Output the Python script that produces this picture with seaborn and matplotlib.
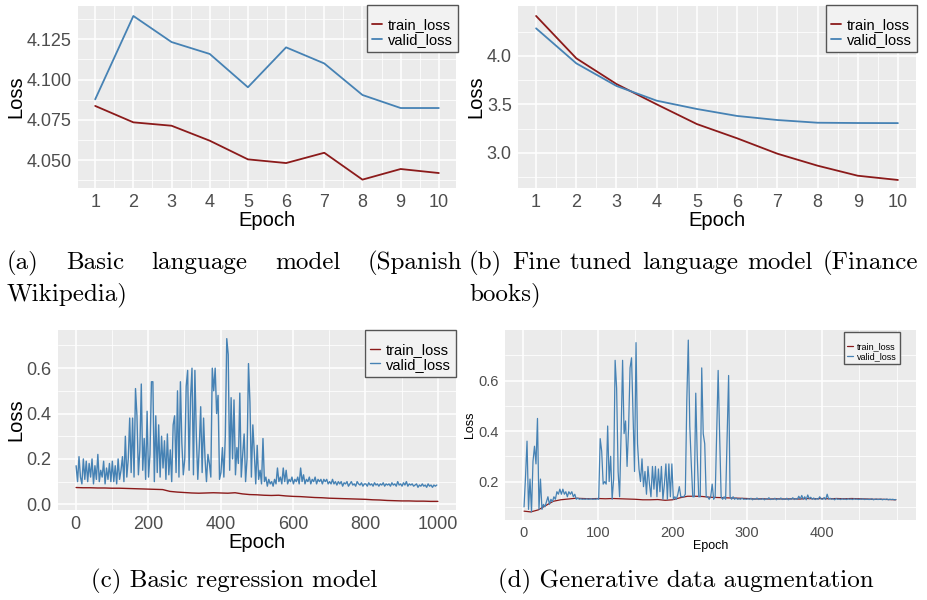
import numpy as np
import pandas as pd
import matplotlib
matplotlib.use("Agg")
import matplotlib.pyplot as plt
import seaborn as sns

# ---------------- data ----------------
# (a) Basic language model (Spanish Wikipedia)
a_epoch = [1, 2, 3, 4, 5, 6, 7, 8, 9, 10]
a_train = [4.0836, 4.0734, 4.0713, 4.0620, 4.0504, 4.0481, 4.0545, 4.0378, 4.0444, 4.0419]
a_valid = [4.0877, 4.1395, 4.1233, 4.1159, 4.0952, 4.1200, 4.1100, 4.0904, 4.0823, 4.0823]

# (b) Fine tuned language model (Finance books)
b_epoch = [1, 2, 3, 4, 5, 6, 7, 8, 9, 10]
b_train = [4.414, 3.976, 3.710, 3.500, 3.296, 3.149, 2.990, 2.866, 2.762, 2.718]
b_valid = [4.286, 3.924, 3.690, 3.538, 3.452, 3.380, 3.338, 3.310, 3.307, 3.306]

# (c) Basic regression model  (valid read every 4 epochs, train every 20)
c_valid_epoch = list(range(1, 1001, 4))
c_valid = [
    0.17, 0.10, 0.21, 0.12, 0.09, 0.20, 0.11, 0.19, 0.10, 0.18, 0.12, 0.20, 0.09, 0.17, 0.11, 0.22, 0.10, 0.15, 0.12, 0.19, 0.09, 0.16, 0.11, 0.18, 0.10,
    0.19, 0.10, 0.17, 0.09, 0.20, 0.11, 0.15, 0.21, 0.10, 0.30, 0.12, 0.20, 0.38, 0.14, 0.38, 0.12, 0.51, 0.39, 0.13, 0.24, 0.53, 0.15, 0.29, 0.11, 0.41,
    0.12, 0.22, 0.54, 0.54, 0.10, 0.39, 0.14, 0.35, 0.12, 0.30, 0.16, 0.28, 0.11, 0.31, 0.13, 0.24, 0.10, 0.35, 0.39, 0.14, 0.50, 0.12, 0.54, 0.27, 0.13,
    0.20, 0.52, 0.59, 0.15, 0.47, 0.60, 0.13, 0.59, 0.30, 0.11, 0.25, 0.43, 0.14, 0.38, 0.20, 0.10, 0.22, 0.18, 0.12, 0.60, 0.50, 0.60, 0.40, 0.48, 0.11,
    0.14, 0.25, 0.12, 0.30, 0.73, 0.66, 0.15, 0.47, 0.20, 0.46, 0.13, 0.25, 0.18, 0.49, 0.12, 0.22, 0.31, 0.10, 0.20, 0.62, 0.45, 0.12, 0.35, 0.23, 0.09,
    0.26, 0.11, 0.15, 0.09, 0.29, 0.10, 0.12, 0.08, 0.11, 0.09, 0.10, 0.08, 0.11, 0.09, 0.16, 0.10, 0.12, 0.09, 0.16, 0.10, 0.15, 0.09, 0.11, 0.10, 0.12,
    0.09, 0.11, 0.10, 0.12, 0.09, 0.16, 0.10, 0.13, 0.09, 0.11, 0.10, 0.12, 0.09, 0.11, 0.10, 0.12, 0.09, 0.11, 0.10, 0.11, 0.09, 0.11, 0.10, 0.11, 0.09,
    0.10, 0.09, 0.11, 0.09, 0.10, 0.085, 0.10, 0.09, 0.10, 0.08, 0.095, 0.09, 0.10, 0.08, 0.09, 0.10, 0.085, 0.09, 0.08, 0.10, 0.09, 0.085, 0.095, 0.08, 0.09,
    0.09, 0.08, 0.095, 0.085, 0.09, 0.08, 0.095, 0.085, 0.09, 0.08, 0.09, 0.085, 0.095, 0.08, 0.09, 0.085, 0.09, 0.08, 0.095, 0.085, 0.09, 0.08, 0.10, 0.085, 0.09,
    0.08, 0.095, 0.085, 0.10, 0.08, 0.09, 0.085, 0.09, 0.08, 0.085, 0.09, 0.075, 0.085, 0.08, 0.09, 0.08, 0.085, 0.075, 0.09, 0.08, 0.085, 0.075, 0.085, 0.08, 0.085,
]
c_train_epoch = [1] + list(range(20, 1001, 20))
c_train = [0.074, 0.073, 0.073, 0.072, 0.072, 0.071, 0.071, 0.070, 0.069, 0.068, 0.067, 0.066, 0.065,
           0.057, 0.054, 0.052, 0.050, 0.049, 0.050, 0.051, 0.050, 0.049, 0.051, 0.046, 0.043, 0.042,
           0.040, 0.039, 0.040, 0.037, 0.035, 0.034, 0.032, 0.030, 0.029, 0.027, 0.026, 0.025, 0.024,
           0.023, 0.022, 0.020, 0.019, 0.017, 0.016, 0.015, 0.015, 0.014, 0.014, 0.013, 0.013]

# (d) Generative data augmentation (valid read every 2 epochs, train every 10)
d_valid_epoch = list(range(1, 500, 2))
d_valid = [
    0.10, 0.22, 0.36, 0.09, 0.21, 0.08, 0.28, 0.34, 0.27, 0.45, 0.09, 0.21, 0.09, 0.11, 0.10, 0.12, 0.14, 0.11, 0.13, 0.12, 0.14, 0.13, 0.16, 0.15, 0.17,
    0.15, 0.17, 0.15, 0.16, 0.14, 0.16, 0.15, 0.16, 0.14, 0.15, 0.13, 0.135, 0.13, 0.132, 0.13, 0.131, 0.13, 0.132, 0.13, 0.131, 0.132, 0.13, 0.131, 0.13, 0.132,
    0.13, 0.37, 0.32, 0.19, 0.20, 0.19, 0.42, 0.20, 0.30, 0.13, 0.21, 0.68, 0.57, 0.24, 0.14, 0.39, 0.68, 0.39, 0.44, 0.26, 0.41, 0.65, 0.69, 0.46, 0.24,
    0.75, 0.35, 0.25, 0.20, 0.29, 0.18, 0.24, 0.15, 0.26, 0.19, 0.14, 0.26, 0.17, 0.26, 0.14, 0.25, 0.16, 0.26, 0.13, 0.19, 0.27, 0.13, 0.27, 0.14, 0.27,
    0.13, 0.14, 0.13, 0.15, 0.18, 0.14, 0.14, 0.14, 0.15, 0.52, 0.76, 0.42, 0.27, 0.14, 0.14, 0.55, 0.30, 0.14, 0.14, 0.65, 0.39, 0.35, 0.14, 0.14, 0.13,
    0.14, 0.19, 0.13, 0.14, 0.39, 0.64, 0.38, 0.14, 0.13, 0.14, 0.13, 0.37, 0.62, 0.14, 0.13, 0.14, 0.13, 0.135, 0.13, 0.132, 0.13, 0.134, 0.13, 0.131, 0.13,
    0.132, 0.13, 0.134, 0.128, 0.132, 0.13, 0.135, 0.129, 0.131, 0.13, 0.133, 0.128, 0.132, 0.13, 0.136, 0.129, 0.131, 0.13, 0.134, 0.128, 0.132, 0.13, 0.135, 0.129, 0.131,
    0.13, 0.134, 0.128, 0.132, 0.13, 0.136, 0.129, 0.133, 0.13, 0.142, 0.131, 0.145, 0.13, 0.14, 0.128, 0.147, 0.132, 0.138, 0.13, 0.135, 0.129, 0.133, 0.13, 0.14, 0.131,
    0.13, 0.137, 0.129, 0.15, 0.131, 0.134, 0.13, 0.132, 0.128, 0.133, 0.13, 0.131, 0.129, 0.132, 0.13, 0.131, 0.129, 0.132, 0.13, 0.131, 0.129, 0.132, 0.13, 0.131, 0.129,
    0.131, 0.13, 0.132, 0.129, 0.13, 0.131, 0.129, 0.13, 0.132, 0.128, 0.13, 0.131, 0.129, 0.13, 0.131, 0.128, 0.13, 0.129, 0.131, 0.128, 0.13, 0.129, 0.13, 0.128, 0.129,
]
d_train_epoch = [1] + list(range(10, 500, 10)) + [499]
d_train = [0.083, 0.080, 0.088, 0.105, 0.122, 0.128, 0.131, 0.134, 0.133, 0.132, 0.133, 0.132, 0.133,
           0.132, 0.131, 0.130, 0.128, 0.128, 0.129, 0.126, 0.128, 0.136, 0.142, 0.142, 0.141, 0.138,
           0.137, 0.136, 0.135, 0.134, 0.133, 0.131, 0.132, 0.131, 0.132, 0.131, 0.132, 0.131, 0.133,
           0.132, 0.133, 0.132, 0.133, 0.132, 0.133, 0.132, 0.131, 0.130, 0.130, 0.129, 0.128]

series_names = ["train_loss", "valid_loss"]
TRAIN_C = "#8B1A1A"
VALID_C = "#4682B4"
palette = {"train_loss": TRAIN_C, "valid_loss": VALID_C}

caption_a = ["(a) Basic language model (Spanish", "Wikipedia)"]
caption_b = ["(b) Fine tuned language model (Finance", "books)"]
caption_c = "(c) Basic regression model"
caption_d = "(d) Generative data augmentation"

# ---------------- style ----------------
sns.set_theme(style="darkgrid")
plt.rcParams["font.family"] = ["Liberation Sans", "DejaVu Sans"]
plt.rcParams["axes.facecolor"] = "#EBEBEB"

fig = plt.figure(figsize=(9.28, 6.0), dpi=100)
W, H = 928.0, 600.0


def add_axes(x0, y0, x1, y1):
    return fig.add_axes([x0 / W, 1 - y1 / H, (x1 - x0) / W, (y1 - y0) / H])


def make_df(te, tv, ve, vv):
    return pd.concat([
        pd.DataFrame({"Epoch": te, "Loss": tv, "series": series_names[0]}),
        pd.DataFrame({"Epoch": ve, "Loss": vv, "series": series_names[1]}),
    ], ignore_index=True)


def style(ax, xlim, ylim, xmaj, xmin, ymaj, ymin, ylabels, tick_fs, title_fs,
          leg_fs, leg_anchor, lw_major=1.1, lw_minor=0.55,
          ylabelpad=2, xlabelpad=0, title_fs_leg=5):
    ax.set_facecolor("#EBEBEB")
    ax.set_xlim(*xlim)
    ax.set_ylim(*ylim)
    ax.set_xticks(xmaj)
    ax.set_xticks(xmin, minor=True)
    ax.set_yticks(ymaj)
    ax.set_yticklabels(ylabels)
    ax.set_yticks(ymin, minor=True)
    ax.grid(which="major", color="white", linewidth=lw_major)
    ax.grid(which="minor", color="white", linewidth=lw_minor)
    ax.set_axisbelow(True)
    ax.tick_params(which="major", length=3, width=0.8, color="#333333",
                   labelsize=tick_fs, labelcolor="#4D4D4D", pad=1.5)
    ax.tick_params(which="minor", length=0)
    for s in ax.spines.values():
        s.set_visible(False)
    ax.set_xlabel("Epoch", fontsize=title_fs, color="black", labelpad=xlabelpad)
    ax.set_ylabel("Loss", fontsize=title_fs, color="black", labelpad=ylabelpad)
    handles, labels = ax.get_legend_handles_labels()
    leg = ax.legend(handles, labels, loc="upper right", bbox_to_anchor=leg_anchor,
                    fontsize=leg_fs, frameon=True, fancybox=False,
                    edgecolor="#555555", facecolor="#F2F2F2", framealpha=1,
                    handlelength=0.7, handletextpad=0.4, labelspacing=0.05,
                    borderpad=0.35, borderaxespad=0, title=" ",
                    title_fontsize=title_fs_leg)
    leg.get_frame().set_linewidth(1.0)
    for t in leg.get_texts():
        t.set_color("black")


# (a)
ax_a = add_axes(78, 6, 456, 188)
sns.lineplot(data=make_df(a_epoch, a_train, a_epoch, a_valid), x="Epoch", y="Loss",
             hue="series", palette=palette, linewidth=1.3, ax=ax_a, estimator=None)
style(ax_a, (0.55, 10.45), (4.0326, 4.1457), a_epoch, [v + 0.5 for v in a_epoch[:-1]],
      [4.050, 4.075, 4.100, 4.125], [4.0375, 4.0625, 4.0875, 4.1125, 4.1375],
      ["4.050", "4.075", "4.100", "4.125"], 13, 14.5, 10.5, (1.005, 1.005), ylabelpad=1)

# (b)
ax_b = add_axes(518, 6, 916, 188)
sns.lineplot(data=make_df(b_epoch, b_train, b_epoch, b_valid), x="Epoch", y="Loss",
             hue="series", palette=palette, linewidth=1.3, ax=ax_b, estimator=None)
style(ax_b, (0.55, 10.45), (2.635, 4.517), b_epoch, [v + 0.5 for v in b_epoch[:-1]],
      [3.0, 3.5, 4.0], [2.75, 3.25, 3.75, 4.25], ["3.0", "3.5", "4.0"],
      13, 14.5, 10.5, (1.003, 1.005), ylabelpad=1)

# (c)
ax_c = add_axes(58, 330, 456, 510)
sns.lineplot(data=make_df(c_train_epoch, c_train, c_valid_epoch, c_valid), x="Epoch", y="Loss",
             hue="series", palette=palette, linewidth=1.0, ax=ax_c, estimator=None)
style(ax_c, (-49, 1050), (-0.025, 0.768), [0, 200, 400, 600, 800, 1000],
      [100, 300, 500, 700, 900], [0.0, 0.2, 0.4, 0.6], [0.1, 0.3, 0.5, 0.7],
      ["0.0", "0.2", "0.4", "0.6"], 13, 14.5, 10.5, (1.0, 1.0), ylabelpad=1)

# (d)
ax_d = add_axes(505, 330, 916, 520)
sns.lineplot(data=make_df(d_train_epoch, d_train, d_valid_epoch, d_valid), x="Epoch", y="Loss",
             hue="series", palette=palette, linewidth=0.9, ax=ax_d, estimator=None)
style(ax_d, (-24.5, 526), (0.048, 0.80), [0, 100, 200, 300, 400],
      [50, 150, 250, 350, 450, 500], [0.2, 0.4, 0.6], [0.1, 0.3, 0.5, 0.7],
      ["0.2", "0.4", "0.6"], 10.5, 9, 6.5, (0.96, 0.99), title_fs_leg=6)

# ---------------- captions ----------------
serif = ["cmr10", "DejaVu Serif"]
cap_fs = 18
renderer = fig.canvas.get_renderer()


def cap(x, y, s, ha="left"):
    return fig.text(x / W, 1 - y / H, s, ha=ha, va="baseline", fontsize=cap_fs,
                    family=serif, color="black")


def justify(line, x0, x1, y):
    """Lay out a caption line justified between pixel columns x0 and x1."""
    words = line.split()
    texts = [cap(x0, y, w) for w in words]
    widths = [t.get_window_extent(renderer).width for t in texts]
    gap = (x1 - x0 - sum(widths)) / (len(words) - 1)
    x = x0
    for t, w in zip(texts, widths):
        t.set_x(x / W)
        x += w + gap


justify(caption_a[0], 7, 462, 269)
cap(7, 300, caption_a[1])
justify(caption_b[0], 469, 918, 269)
cap(469, 300, caption_b[1])
cap(234, 587, caption_c, ha="center")
cap(686, 587, caption_d, ha="center")

fig.savefig("out.png", dpi=100)
